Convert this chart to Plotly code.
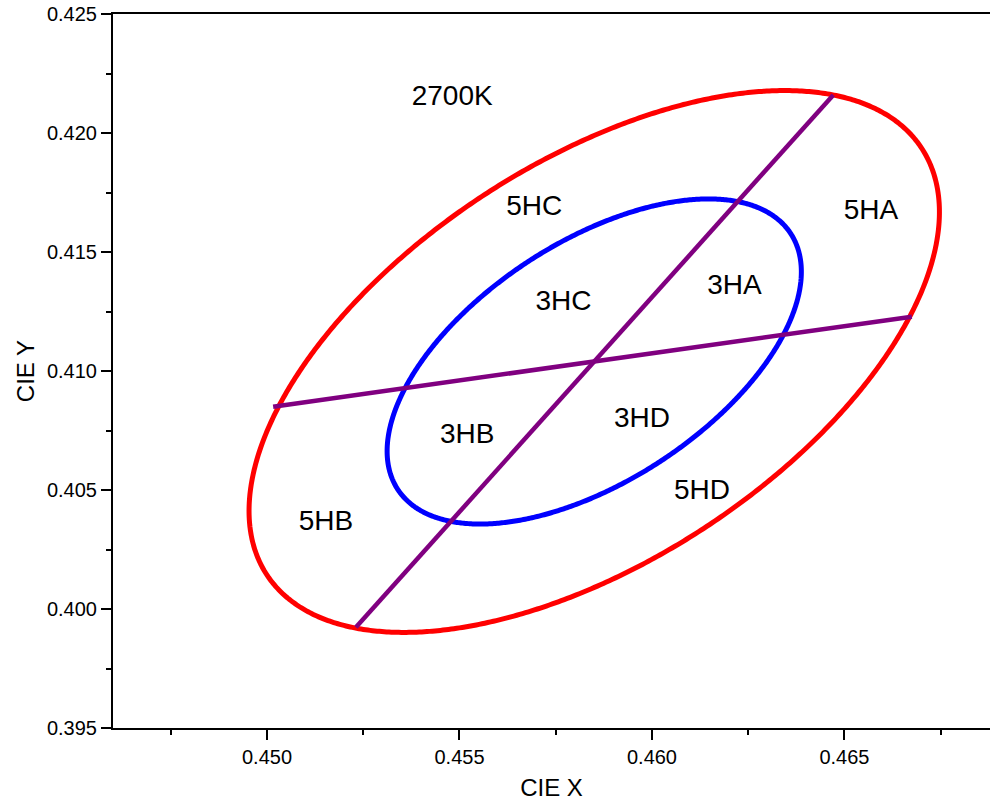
import numpy as np
import plotly.graph_objects as go

# 2700K chromaticity centre and 5-step MacAdam ellipse geometry
center_x = 0.4585
center_y = 0.4104
semi_major_5 = 0.0129
semi_minor_5 = 0.0066
tilt_deg = 56.8
steps = [5, 3]
step_colors = ["#ff0000", "#0000ff"]

# quadrant dividers (diameters across the 5-step ellipse)
divider_a_x = [0.45016, 0.46675]
divider_a_y = [0.40850, 0.41228]
divider_b_x = [0.45231, 0.46471]
divider_b_y = [0.39923, 0.42160]

# bin names and their positions
bin_labels = ["5HA", "5HB", "5HC", "5HD", "3HA", "3HB", "3HC", "3HD", "2700K"]
bin_label_x = [0.46569, 0.45153, 0.45694, 0.46130, 0.46214, 0.45520, 0.45770, 0.45974, 0.45481]
bin_label_y = [0.41669, 0.40360, 0.41684, 0.40490, 0.41352, 0.40727, 0.41285, 0.40794, 0.42147]

FONT = "Arial, Liberation Sans, sans-serif"


def ellipse(step):
    a = semi_major_5 * step / 5
    b = semi_minor_5 * step / 5
    th = np.radians(tilt_deg)
    t = np.linspace(0, 2 * np.pi, 721)
    u, v = a * np.cos(t), b * np.sin(t)
    return (center_x + u * np.cos(th) - v * np.sin(th),
            center_y + u * np.sin(th) + v * np.cos(th))


fig = go.Figure()

for step, color in zip(steps, step_colors):
    ex, ey = ellipse(step)
    fig.add_trace(go.Scatter(x=ex, y=ey, mode="lines",
                             line=dict(color=color, width=5, simplify=False),
                             name=f"{step}-step", hoverinfo="skip"))

for dx, dy in [(divider_a_x, divider_a_y), (divider_b_x, divider_b_y)]:
    fig.add_trace(go.Scatter(x=dx, y=dy, mode="lines",
                             line=dict(color="#800080", width=4.5),
                             hoverinfo="skip"))

fig.add_trace(go.Scatter(x=bin_label_x, y=bin_label_y, mode="text",
                         text=bin_labels, textposition="middle center",
                         textfont=dict(family=FONT, size=28, color="black"),
                         cliponaxis=False, hoverinfo="skip"))

axis_common = dict(
    showline=True, linecolor="black", linewidth=2,
    ticks="outside", ticklen=10, tickwidth=2, tickcolor="black",
    showgrid=False, zeroline=False, tickformat=".3f",
    tickfont=dict(family=FONT, size=20, color="black"),
)

fig.update_layout(
    width=990, height=806,
    margin=dict(l=113, r=0, t=14, b=78),
    paper_bgcolor="white", plot_bgcolor="white",
    showlegend=False,
    font=dict(family=FONT, color="black"),
    xaxis=dict(range=[0.446, 0.46878], dtick=0.005, tick0=0.45, mirror=True,
               minor=dict(ticks="outside", ticklen=5, tickwidth=2,
                          tickcolor="black", dtick=0.0025, showgrid=False),
               title=dict(text="CIE X", font=dict(family=FONT, size=24), standoff=12),
               **axis_common),
    yaxis=dict(range=[0.395, 0.425], dtick=0.005, tick0=0.395,
               minor=dict(ticks="outside", ticklen=5, tickwidth=2,
                          tickcolor="black", dtick=0.0025, showgrid=False),
               title=dict(text="CIE Y", font=dict(family=FONT, size=24), standoff=6),
               **axis_common),
)

fig.write_html("out.html")
